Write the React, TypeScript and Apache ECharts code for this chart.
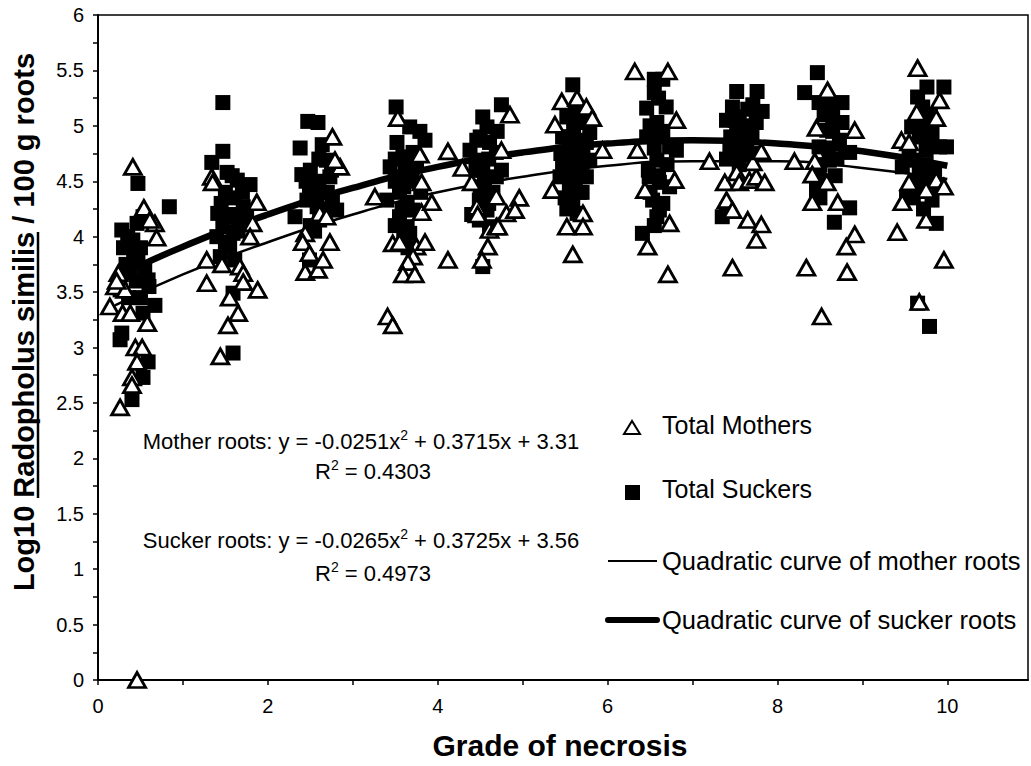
import React, { useEffect, useRef } from "react";
import * as echarts from "echarts";

// Total Mothers (triangles)
const motherX = [
  0.41, 0.54, 0.67, 0.69, 0.61, 0.24, 0.2, 0.14, 0.29, 0.38, 0.58, 0.44, 0.52, 0.46, 0.4, 0.4, 0.26, 0.46, 0.32, 0.22,
  1.34, 1.35, 1.87, 1.82, 1.79, 1.28, 1.46, 1.67, 1.71, 1.71, 1.28, 1.88, 1.55, 1.65, 1.53, 1.44,
  2.76, 2.85, 2.79, 2.61, 2.69, 2.44, 2.41, 2.73, 2.49, 2.44, 2.59, 2.65,
  3.53, 3.79, 3.81, 3.81, 3.26, 3.93, 3.47, 3.55, 3.75, 3.85, 3.71, 3.65, 3.59, 3.73, 4.12, 3.41, 3.47,
  4.12, 4.29, 4.4, 4.46, 4.47, 4.61, 4.69, 4.59, 4.52, 4.81, 4.85, 4.75, 4.69, 4.96, 4.91, 4.71,
  5.46, 5.64, 5.75, 5.82, 5.38, 5.94, 5.35, 5.71, 5.52, 5.71, 5.59,
  6.32, 6.71, 6.81, 6.35, 6.79, 6.44, 6.73, 6.47, 6.71, 7.2,
  7.38, 7.52, 7.55, 7.67, 7.75, 7.85, 7.71, 7.81, 7.4, 7.47, 7.65, 7.81, 7.75, 7.47,
  8.59, 8.46, 8.91, 8.44, 8.41, 8.58, 8.41, 8.71, 8.2, 8.91, 8.81, 8.34, 8.82, 8.52,
  9.65, 9.91, 9.87, 9.64, 9.46, 9.55, 9.55, 9.87, 9.96, 9.75, 9.47, 9.75, 9.41, 9.96, 9.67,
];
const motherY = [
  4.63, 4.26, 4.12, 3.99, 4.15, 3.67, 3.55, 3.37, 3.31, 3.31, 3.22, 3.0, 3.0, 2.87, 2.73, 2.66, 2.46, 0, 3.52, 3.6,
  4.54, 4.49, 4.31, 4.12, 4.0, 3.79, 3.75, 3.73, 3.67, 3.59, 3.58, 3.52, 3.45, 3.31, 3.2, 2.92,
  4.9, 4.63, 4.69, 4.21, 4.18, 4.03, 3.95, 3.95, 3.85, 3.68, 3.7, 3.79,
  5.07, 4.74, 4.49, 4.22, 4.36, 4.31, 3.94, 3.95, 3.91, 3.95, 3.82, 3.77, 3.66, 3.66, 3.79, 3.28, 3.2,
  4.77, 4.62, 4.49, 4.27, 4.2, 4.06, 4.09, 3.91, 3.79, 4.21, 5.1, 4.78, 4.36, 4.35, 4.24, 4.09,
  5.22, 5.25, 5.17, 5.07, 5.01, 4.78, 4.42, 4.21, 4.09, 4.09, 3.84,
  5.49, 5.49, 5.05, 4.78, 4.51, 4.42, 4.12, 3.91, 3.66, 4.68,
  4.49, 4.58, 4.49, 4.51, 4.54, 4.49, 4.67, 4.77, 4.33, 4.24, 4.15, 4.11, 3.97, 3.72,
  5.32, 4.98, 4.96, 4.68, 4.56, 4.49, 4.31, 4.31, 4.68, 4.02, 3.91, 3.72, 3.68, 3.28,
  5.52, 5.23, 5.07, 5.12, 4.87, 4.85, 4.49, 4.51, 4.45, 4.42, 4.31, 4.15, 4.04, 3.79, 3.41,
];

// Total Suckers (squares)
const suckerX = [
  0.47, 0.84, 0.28, 0.46, 0.53, 0.41, 0.47, 0.38, 0.26, 0.59, 0.67, 0.53, 0.28, 0.26, 0.59, 0.53, 0.4,
  0.35, 0.5, 0.42, 0.33, 0.55, 0.45, 0.36, 0.5, 0.6, 0.3,
  1.47, 1.47, 1.34, 1.52, 1.64, 1.79, 1.41, 1.47, 1.59, 1.64, 1.71, 1.44, 1.55, 1.61, 1.59, 1.59,
  1.5, 1.6, 1.45, 1.7, 1.55, 1.65, 1.5, 1.4, 1.75, 1.58,
  2.47, 2.59, 2.38, 2.4, 2.64, 2.69, 2.73, 2.49, 2.65, 2.76, 2.81, 2.58, 2.46, 2.61, 2.49, 2.32,
  2.5, 2.6, 2.7, 2.55, 2.45, 2.65, 2.5, 2.75, 2.6, 2.55,
  3.51, 3.67, 3.79, 3.85, 3.52, 3.44, 3.59, 3.71, 3.55, 3.67, 3.4, 3.55, 3.64, 3.71, 3.55, 3.64, 3.67,
  3.5, 3.6, 3.7, 3.62, 3.5, 3.58, 3.75, 3.8, 3.5, 3.6, 3.65,
  4.75, 4.53, 4.58, 4.46, 4.38, 4.61, 4.69, 4.46, 4.53, 4.69, 4.49, 4.58, 4.49, 4.61, 4.53,
  4.55, 4.65, 4.45, 4.6, 4.5, 4.7, 4.6, 4.5, 4.75, 4.4,
  5.59, 5.52, 5.64, 5.71, 5.47, 5.64, 5.79, 5.55, 5.71, 5.47, 5.64, 5.79, 5.44, 5.59, 5.75, 5.55, 5.67, 5.59, 5.64,
  5.5, 5.6, 5.7, 5.5, 5.6, 5.7, 5.5, 5.62, 5.52, 5.75, 5.45,
  6.55, 6.65, 6.46, 6.69, 6.58, 6.61, 6.46, 6.73, 6.81, 6.58, 6.49, 6.61, 6.73, 6.53, 6.61, 6.58, 6.41,
  6.55, 6.6, 6.5, 6.65, 6.55, 6.7, 6.6, 6.5, 6.65, 6.55, 6.48,
  7.52, 7.76, 7.47, 7.71, 7.82, 7.55, 7.75, 7.4, 7.52, 7.64, 7.44, 7.55, 7.4, 7.35,
  7.6, 7.65, 7.5, 7.7, 7.45, 7.6, 7.55, 7.4, 7.7,
  8.47, 8.32, 8.49, 8.76, 8.65, 8.76, 8.58, 8.73, 8.49, 8.85, 8.61, 8.49, 8.46, 8.85, 8.67,
  8.55, 8.65, 8.6, 8.7, 8.5, 8.55, 8.68, 8.62, 8.5,
  9.76, 9.96, 9.65, 9.71, 9.58, 9.67, 9.82, 9.91, 9.75, 9.59, 9.99, 9.47, 9.67, 9.82, 9.67, 9.52, 9.82, 9.87, 9.65, 9.79,
  9.7, 9.8, 9.75, 9.65, 9.85, 9.6, 9.9, 9.72, 9.8, 9.55,
];
const suckerY = [
  4.48, 4.27, 4.06, 4.12, 4.18, 3.97, 3.79, 3.67, 3.52, 3.61, 3.38, 3.31, 3.13, 3.07, 2.87, 2.73, 2.53,
  4.0, 3.9, 3.85, 3.75, 3.7, 3.6, 3.45, 3.45, 3.55, 3.9,
  5.21, 4.77, 4.67, 4.58, 4.51, 4.47, 4.21, 4.09, 4.03, 4.18, 4.27, 3.82, 3.91, 3.79, 3.49, 2.95,
  4.4, 4.35, 4.3, 4.4, 4.2, 4.05, 3.95, 4.0, 4.2, 4.55,
  5.04, 5.03, 4.8, 4.56, 4.83, 4.69, 4.54, 4.45, 4.4, 4.33, 4.24, 4.27, 4.33, 4.15, 3.79, 4.18,
  4.6, 4.5, 4.4, 4.35, 4.5, 4.25, 4.1, 4.6, 4.7, 4.05,
  5.17, 4.99, 4.95, 4.87, 4.85, 4.63, 4.72, 4.76, 4.54, 4.6, 4.33, 4.4, 4.31, 4.24, 4.18, 4.09, 4.03,
  4.5, 4.45, 4.5, 4.65, 4.7, 4.25, 4.65, 4.4, 4.1, 4.0, 3.9,
  5.19, 5.08, 4.99, 4.87, 4.78, 4.85, 4.76, 4.69, 4.6, 4.54, 4.33, 4.24, 4.15, 4.09, 3.73,
  4.5, 4.4, 4.6, 4.7, 4.9, 4.95, 4.3, 4.45, 4.6, 4.2,
  5.37, 5.08, 5.12, 5.03, 4.9, 4.87, 4.94, 4.78, 4.76, 4.67, 4.63, 4.69, 4.54, 4.51, 4.54, 4.42, 4.4, 4.31, 4.21,
  4.6, 4.7, 4.6, 4.9, 5.0, 4.4, 4.35, 4.45, 4.25, 4.85, 4.75,
  5.42, 5.42, 5.16, 5.17, 5.03, 4.9, 4.9, 4.81, 4.78, 4.69, 4.54, 4.49, 4.45, 4.33, 4.24, 4.18, 4.03,
  5.3, 5.25, 5.0, 4.95, 4.8, 4.65, 4.55, 4.4, 4.3, 4.1, 4.6,
  5.31, 5.31, 5.17, 5.19, 5.13, 5.08, 5.03, 5.05, 4.94, 4.87, 4.78, 4.76, 4.24, 4.18,
  5.0, 5.15, 5.05, 4.9, 4.9, 4.8, 4.65, 4.7, 4.75,
  5.48, 5.3, 5.21, 5.21, 5.08, 5.03, 4.96, 4.87, 4.81, 4.76, 4.69, 4.58, 4.42, 4.26, 4.13,
  5.1, 4.95, 4.8, 4.7, 4.65, 4.5, 4.55, 5.2, 4.35,
  5.35, 5.35, 5.26, 5.17, 4.99, 4.9, 4.94, 4.81, 4.78, 4.69, 4.81, 4.63, 4.63, 4.54, 4.45, 4.36, 4.33, 4.12, 3.4, 3.19,
  5.0, 4.85, 4.65, 4.5, 4.6, 4.35, 4.45, 4.25, 5.1, 4.8,
];

// Quadratic trend curves
const curveX = [0.2, 1, 2, 3, 4, 5, 6, 7, 8, 9, 10];
const motherCurveY = [3.38, 3.66, 3.95, 4.2, 4.4, 4.54, 4.64, 4.68, 4.68, 4.62, 4.52];
const suckerCurveY = [3.63, 3.91, 4.2, 4.44, 4.63, 4.76, 4.84, 4.87, 4.84, 4.77, 4.64];

const xTickLabels = ["0", "2", "4", "6", "8", "10"];
const yTickLabels = ["0", "0.5", "1", "1.5", "2", "2.5", "3", "3.5", "4", "4.5", "5", "5.5", "6"];

const FONT = '"Liberation Sans", Arial, sans-serif';

export default function App() {
  const ref = useRef<HTMLDivElement>(null);

  useEffect(() => {
    document.body.style.margin = "0";
    if (!ref.current) return;
    const chart = echarts.init(ref.current, null, { renderer: "svg" });

    const mothers = motherX.map((x, i) => [x, motherY[i]]);
    const suckers = suckerX.map((x, i) => [x, suckerY[i]]);
    const mCurve = curveX.map((x, i) => [x, motherCurveY[i]]);
    const sCurve = curveX.map((x, i) => [x, suckerCurveY[i]]);

    const eqFont = { fontSize: 22, fontFamily: FONT, fill: "#000" };
    const supStyle = { fontSize: 14, fontFamily: FONT, fill: "#000", verticalAlign: "top", lineHeight: 16 };
    const richEq = { a: { ...eqFont, lineHeight: 26 }, s: supStyle };

    const option: any = {
      animation: false,
      backgroundColor: "#fff",
      grid: {
        left: 98,
        right: 3,
        top: 15,
        bottom: 86,
        show: true,
        borderColor: "#000",
        borderWidth: 1.5,
      },
      xAxis: {
        type: "value",
        min: 0,
        max: 10.95,
        interval: 1,
        axisLine: { lineStyle: { color: "#000", width: 2 } },
        axisTick: { show: true, length: 5, lineStyle: { color: "#000", width: 1.5 } },
        splitLine: { show: false },
        axisLabel: {
          fontSize: 20,
          fontFamily: FONT,
          color: "#000",
          margin: 16,
          showMaxLabel: false,
          formatter: (v: number) => {
            const s = String(v);
            return xTickLabels.includes(s) ? s : "";
          },
        },
      },
      yAxis: {
        type: "value",
        min: 0,
        max: 6,
        interval: 0.25,
        axisLine: { lineStyle: { color: "#000", width: 2 } },
        axisTick: { show: true, length: 5, lineStyle: { color: "#000", width: 1.5 } },
        splitLine: { show: false },
        axisLabel: {
          fontSize: 20,
          fontFamily: FONT,
          color: "#000",
          margin: 14,
          formatter: (v: number) => {
            const s = String(v);
            return yTickLabels.includes(s) ? s : "";
          },
        },
      },
      series: [
        {
          name: "Total Suckers",
          type: "scatter",
          data: suckers,
          symbol: "rect",
          symbolSize: 15,
          itemStyle: { color: "#000", opacity: 1 },
          z: 2,
        },
        {
          name: "Quadratic curve of mother roots",
          type: "line",
          data: mCurve,
          smooth: true,
          showSymbol: false,
          lineStyle: { color: "#000", width: 2.5 },
          z: 3,
        },
        {
          name: "Quadratic curve of sucker roots",
          type: "line",
          data: sCurve,
          smooth: true,
          showSymbol: false,
          lineStyle: { color: "#000", width: 6.5 },
          z: 3,
        },
        {
          name: "Total Mothers",
          type: "scatter",
          data: mothers,
          symbol: "triangle",
          symbolSize: [17, 15],
          itemStyle: { color: "#fff", borderColor: "#000", borderWidth: 2.8, opacity: 1 },
          z: 4,
        },
      ],
      graphic: [
        {
          type: "text",
          x: 24,
          y: 322,
          rotation: Math.PI / 2,
          style: {
            text: "Log10 Radopholus similis / 100 g roots",
            font: `bold 29px ${FONT}`,
            fill: "#000",
            align: "center",
            verticalAlign: "middle",
          },
        },
        {
          type: "line",
          shape: { x1: 38, y1: 232, x2: 38, y2: 498 },
          style: { stroke: "#000", lineWidth: 2.5 },
        },
        {
          type: "text",
          x: 560,
          y: 745,
          style: {
            text: "Grade of necrosis",
            font: `bold 30px ${FONT}`,
            fill: "#000",
            align: "center",
            verticalAlign: "middle",
          },
        },
        {
          type: "text",
          x: 361,
          y: 441,
          style: {
            text: "{a|Mother roots: y = -0.0251x}{s|2}{a| + 0.3715x + 3.31}",
            rich: richEq,
            align: "center",
            verticalAlign: "middle",
          },
        },
        {
          type: "text",
          x: 373,
          y: 471,
          style: {
            text: "{a|R}{s|2}{a| = 0.4303}",
            rich: richEq,
            align: "center",
            verticalAlign: "middle",
          },
        },
        {
          type: "text",
          x: 361,
          y: 540,
          style: {
            text: "{a|Sucker roots: y = -0.0265x}{s|2}{a| + 0.3725x + 3.56}",
            rich: richEq,
            align: "center",
            verticalAlign: "middle",
          },
        },
        {
          type: "text",
          x: 373,
          y: 573,
          style: {
            text: "{a|R}{s|2}{a| = 0.4973}",
            rich: richEq,
            align: "center",
            verticalAlign: "middle",
          },
        },
        // legend
        {
          type: "polygon",
          shape: { points: [[624, 434], [640, 434], [632, 421]] },
          style: { fill: "#fff", stroke: "#000", lineWidth: 2 },
        },
        {
          type: "text",
          x: 662,
          y: 425,
          style: { text: "Total Mothers", font: `25px ${FONT}`, fill: "#000", verticalAlign: "middle" },
        },
        {
          type: "rect",
          shape: { x: 625, y: 485, width: 15, height: 15 },
          style: { fill: "#000" },
        },
        {
          type: "text",
          x: 662,
          y: 489,
          style: { text: "Total Suckers", font: `25px ${FONT}`, fill: "#000", verticalAlign: "middle" },
        },
        {
          type: "line",
          shape: { x1: 608, y1: 561, x2: 657, y2: 561 },
          style: { stroke: "#000", lineWidth: 2 },
        },
        {
          type: "text",
          x: 662,
          y: 561,
          style: {
            text: "Quadratic curve of mother roots",
            font: `25.5px ${FONT}`,
            fill: "#000",
            verticalAlign: "middle",
          },
        },
        {
          type: "line",
          shape: { x1: 608, y1: 620, x2: 657, y2: 620 },
          style: { stroke: "#000", lineWidth: 6, lineCap: "round" },
        },
        {
          type: "text",
          x: 662,
          y: 620,
          style: {
            text: "Quadratic curve of sucker roots",
            font: `25.5px ${FONT}`,
            fill: "#000",
            verticalAlign: "middle",
          },
        },
      ],
    };

    chart.setOption(option);
    return () => chart.dispose();
  }, []);

  return <div ref={ref} style={{ width: 1031, height: 766 }} />;
}
